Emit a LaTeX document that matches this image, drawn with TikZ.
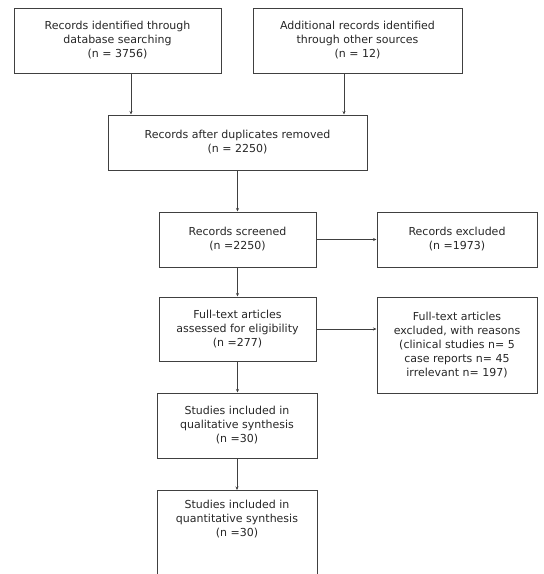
\documentclass[tikz,border=0pt]{standalone}
\usepackage{fontspec}
\setmainfont{DejaVu Sans}
\usetikzlibrary{arrows.meta}
\tikzset{
  box/.style={draw=black!75, line width=1pt, align=center, inner sep=0pt,
    text=black!85, font=\fontsize{11}{14}\selectfont},
  boxtext/.style={align=center, inner sep=0pt, text=black!85,
    font=\fontsize{11}{14}\selectfont},
  flow/.style={draw=black!75, line width=1pt, -{Stealth[length=3.5pt,width=3pt]}}
}
\begin{document}
\begin{tikzpicture}[x=1pt,y=-1pt]
\useasboundingbox (0,0) rectangle (544,574);
\node[box, minimum width=207pt, minimum height=65pt] (ident) at (117.5,40.5) {Records identified through\\database searching\\(n = 3756)};
\node[box, minimum width=209pt, minimum height=65pt] (other) at (357.5,40.5) {Additional records identified\\through other sources\\(n = 12)};
\node[box, minimum width=259pt, minimum height=55pt] (dup) at (237.5,142.5) {Records after duplicates removed\\(n = 2250)};
\node[box, minimum width=157pt, minimum height=55pt] (screen) at (237.5,239.5) {Records screened\\(n =2250)};
\node[box, minimum width=160pt, minimum height=55pt] (excl) at (457,239.5) {Records excluded\\(n =1973)};
\node[box, minimum width=157pt, minimum height=64pt] (full) at (237.5,329) {Full-text articles\\assessed for eligibility\\(n =277)};
\node[box, minimum width=160pt, minimum height=96pt] (fullex) at (457,345) {Full-text articles\\excluded, with reasons\\(clinical studies n= 5\\case reports n= 45\\irrelevant n= 197)};
\node[box, minimum width=160pt, minimum height=65pt] (qual) at (237,425.5) {Studies included in\\qualitative synthesis\\(n =30)};
\node[box, minimum width=160pt, minimum height=88pt, anchor=north] (quant) at (237,490) {};
\node[boxtext, anchor=north] (quanttext) at ([yshift=-10pt]quant.north) {Studies included in\\quantitative synthesis\\(n =30)};
\draw[flow] ([xshift=13.5pt]ident.south) -- ([xshift=13.5pt]ident.south |- dup.north);
\draw[flow] ([xshift=-13.5pt]other.south) -- ([xshift=-13.5pt]other.south |- dup.north);
\draw[flow] (dup.south) -- (dup.south |- screen.north);
\draw[flow] (screen.east) -- (screen.east -| excl.west);
\draw[flow] (screen.south) -- (screen.south |- full.north);
\draw[flow] (full.east) -- (full.east -| fullex.west);
\draw[flow] (full.south) -- (full.south |- qual.north);
\draw[flow] (qual.south) -- (qual.south |- quant.north);
\end{tikzpicture}
\end{document}
